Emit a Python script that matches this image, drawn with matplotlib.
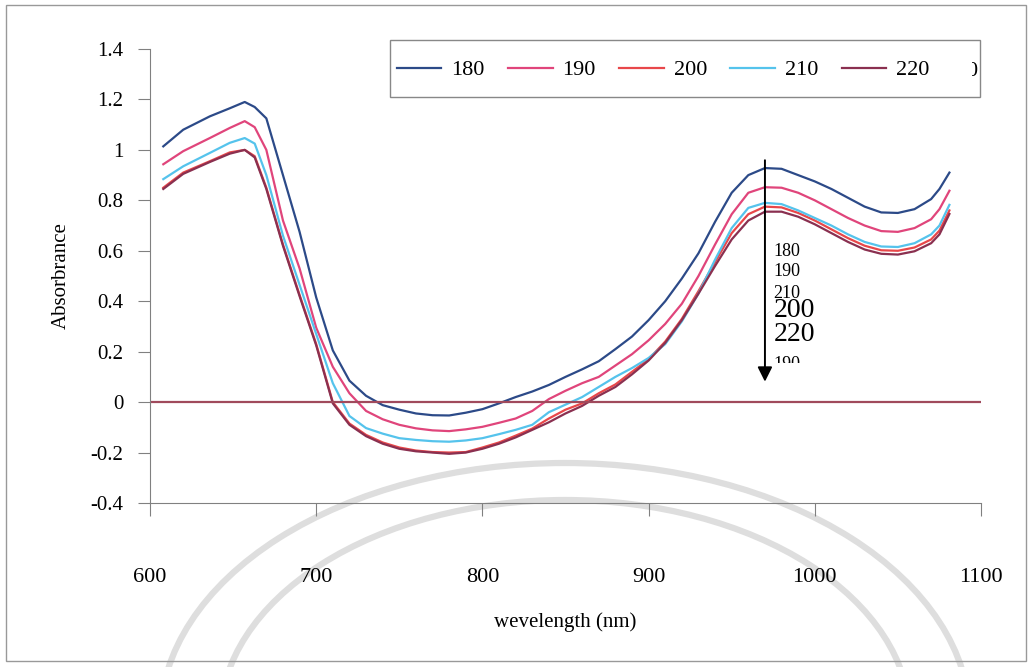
import matplotlib
matplotlib.use("Agg")
import matplotlib.pyplot as plt
from matplotlib.patches import Rectangle, Arc
from matplotlib.transforms import Bbox, TransformedBbox

plt.rcParams["font.family"] = ["Liberation Serif", "DejaVu Serif"]

# wavelength (nm) shared by all spectra
wavelength = [608, 620, 636, 648, 657, 663, 670, 680, 690, 700, 710, 720, 730,
              740, 750, 760, 770, 780, 790, 800, 810, 820, 830, 840, 850, 860,
              870, 880, 890, 900, 910, 920, 930, 940, 950, 960, 970, 980, 990,
              1000, 1010, 1020, 1030, 1040, 1050, 1060, 1070, 1075, 1081]

abs_180 = [1.014, 1.08, 1.133, 1.165, 1.19, 1.17, 1.125, 0.90, 0.675, 0.415,
           0.205, 0.085, 0.025, -0.012, -0.03, -0.045, -0.052, -0.053, -0.042,
           -0.028, -0.005, 0.02, 0.042, 0.068, 0.10, 0.13, 0.162, 0.21, 0.26,
           0.325, 0.40, 0.49, 0.59, 0.715, 0.83, 0.90, 0.928, 0.925, 0.90,
           0.875, 0.845, 0.81, 0.775, 0.752, 0.75, 0.765, 0.805, 0.845, 0.91]

abs_190 = [0.943, 0.995, 1.047, 1.087, 1.114, 1.09, 1.0, 0.72, 0.53, 0.295,
           0.14, 0.035, -0.035, -0.068, -0.09, -0.104, -0.112, -0.115, -0.108,
           -0.098, -0.082, -0.065, -0.035, 0.012, 0.045, 0.075, 0.10, 0.145,
           0.19, 0.245, 0.31, 0.39, 0.50, 0.625, 0.745, 0.83, 0.852, 0.85,
           0.83, 0.80, 0.765, 0.73, 0.70, 0.678, 0.675, 0.69, 0.725, 0.765,
           0.838]

abs_200 = [0.85, 0.91, 0.955, 0.99, 1.0, 0.975, 0.85, 0.625, 0.425, 0.23,
           0.0, -0.085, -0.13, -0.16, -0.18, -0.192, -0.198, -0.2, -0.198,
           -0.18, -0.16, -0.133, -0.105, -0.065, -0.03, -0.005, 0.035, 0.07,
           0.12, 0.17, 0.24, 0.33, 0.44, 0.555, 0.67, 0.745, 0.775, 0.772,
           0.75, 0.72, 0.685, 0.65, 0.62, 0.602, 0.60, 0.613, 0.645, 0.68,
           0.76]

abs_210 = [0.884, 0.935, 0.988, 1.028, 1.047, 1.025, 0.90, 0.66, 0.465, 0.27,
           0.075, -0.055, -0.103, -0.125, -0.143, -0.15, -0.155, -0.157,
           -0.152, -0.143, -0.127, -0.11, -0.09, -0.04, -0.01, 0.02, 0.06,
           0.10, 0.135, 0.175, 0.23, 0.32, 0.43, 0.565, 0.69, 0.77, 0.79,
           0.785, 0.76, 0.73, 0.70, 0.665, 0.635, 0.617, 0.615, 0.63, 0.665,
           0.70, 0.782]

abs_220 = [0.845, 0.905, 0.952, 0.985, 1.0, 0.97, 0.845, 0.62, 0.42, 0.225,
           -0.005, -0.09, -0.135, -0.165, -0.185, -0.195, -0.2, -0.205, -0.2,
           -0.185, -0.165, -0.14, -0.11, -0.08, -0.045, -0.015, 0.025, 0.06,
           0.11, 0.165, 0.235, 0.325, 0.43, 0.54, 0.645, 0.72, 0.755, 0.755,
           0.735, 0.705, 0.67, 0.635, 0.605, 0.588, 0.585, 0.598, 0.63, 0.665,
           0.746]

series_labels = ["180", "190", "200", "210", "220"]
series_values = [abs_180, abs_190, abs_200, abs_210, abs_220]
series_colors = ["#2c4a88", "#e0457b", "#e8474a", "#55c3ec", "#8a3050"]

arrow_labels = ["180", "190", "210", "200", "220", "190"]

W, H = 1029, 667
fig = plt.figure(figsize=(W / 100, H / 100), dpi=100)


def fx(px):
    return px / W


def fy(py):
    return 1 - py / H


# faint watermark arcs behind everything
for (cx, cy, rx, ry) in [(565, 720, 405, 257), (565, 720, 345, 220)]:
    arc = Arc((fx(cx), fy(cy)), 2 * rx / W, 2 * ry / H, theta1=0, theta2=180,
              transform=fig.transFigure, color="#dedede", lw=4.5, zorder=-5)
    fig.patches.append(arc)

# outer frame
fig.patches.append(Rectangle((fx(6), fy(661)), fx(1020), (661 - 5) / H,
                             transform=fig.transFigure, fill=False,
                             edgecolor="#999999", lw=1.0, zorder=-4))

ax = fig.add_axes([fx(150), fy(503), fx(831), (503 - 49) / H])
ax.set_facecolor("none")
ax.set_zorder(2)

for lab, vals, col in zip(series_labels, series_values, series_colors):
    ax.plot(wavelength, vals, color=col, lw=1.6, label=lab)

ax.axhline(0, color="#a04a5c", lw=1.6)

ax.set_xlim(600, 1100)
ax.set_ylim(-0.4, 1.4)
ax.set_xticks([600, 700, 800, 900, 1000, 1100])
ax.set_yticks([-0.4, -0.2, 0, 0.2, 0.4, 0.6, 0.8, 1, 1.2, 1.4])
ax.set_yticklabels(["-0.4", "-0.2", "0", "0.2", "0.4", "0.6", "0.8", "1",
                    "1.2", "1.4"])
for s in ["top", "right"]:
    ax.spines[s].set_visible(False)
for s in ["left", "bottom"]:
    ax.spines[s].set_color("#808080")
ax.tick_params(axis="y", direction="out", length=9, width=0.8,
               color="#808080", pad=10, labelsize=15)
ax.tick_params(axis="x", direction="out", length=9, width=0.8,
               color="#808080", pad=38, labelsize=16)

ax.set_ylabel("Absorbrance", fontsize=15, labelpad=14)
fig.text(fx(565), fy(622), "wevelength (nm)", fontsize=15,
         ha="center", va="center")

# arrow with annotation texts
ax.annotate("", xy=(970, 0.07), xytext=(970, 0.97),
            arrowprops=dict(arrowstyle="-|>", color="black", lw=1.4,
                            mutation_scale=22))
arrow_y = [0.597, 0.519, 0.43, 0.365, 0.27, 0.15]
arrow_sizes = [13, 13, 13, 20, 20, 13]
for i, (lab, yv, fs) in enumerate(zip(arrow_labels, arrow_y, arrow_sizes)):
    t = ax.text(975, yv, lab, fontsize=fs, ha="left", va="center",
                bbox=dict(facecolor="white", edgecolor="none", pad=0.0))
    if i == len(arrow_labels) - 1:
        t.set_clip_box(TransformedBbox(
            Bbox.from_extents(fx(760), fy(363), fx(820), fy(340)),
            fig.transFigure))
        t.set_clip_on(True)

# legend box
fig.patches.append(Rectangle((fx(390), fy(97)), fx(590), 57 / H,
                             transform=fig.transFigure, fill=False,
                             edgecolor="#888888", lw=1.0))
ax.legend(loc="center left", bbox_to_anchor=(fx(397), fy(70)),
          bbox_transform=fig.transFigure, ncol=5, frameon=False,
          fontsize=16, handlelength=2.0, handletextpad=0.45,
          columnspacing=1.05, borderpad=0, borderaxespad=0)
cut = fig.text(fx(966), fy(71), "0", fontsize=16, ha="left", va="center")
cut.set_clip_box(TransformedBbox(
    Bbox.from_extents(fx(972), fy(95), fx(980), fy(42)), fig.transFigure))
cut.set_clip_on(True)

fig.savefig("out.png", dpi=100)
